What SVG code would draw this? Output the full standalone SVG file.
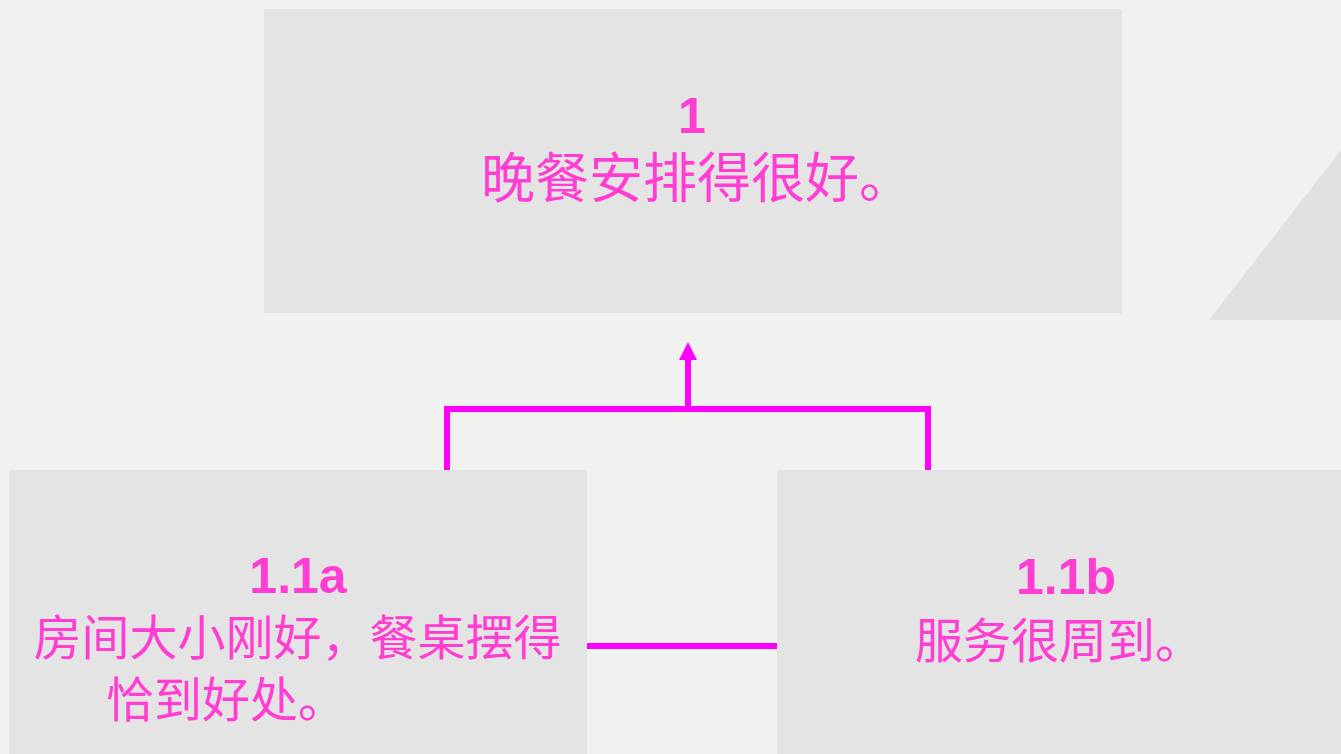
<svg xmlns="http://www.w3.org/2000/svg" width="1341" height="754" viewBox="0 0 1341 754">
<defs>
<style>
.box{fill:#e4e4e4;}
.num{font-family:"Liberation Sans",Arial,sans-serif;font-weight:bold;font-size:50px;fill:#ff3dd2;}
.zh{font-family:"Liberation Sans","Noto Sans CJK SC",sans-serif;font-size:48px;fill:#ff3dd2;}
.conn{fill:none;stroke:#ff00ff;stroke-width:6;}
</style>
</defs>
<rect x="0" y="0" width="1341" height="754" fill="#f1f1f0"/>
<polygon points="1209,320 1341,320 1341,150" fill="#e0e0de"/>
<g id="connectors">
<polyline class="conn" points="447,470 447,409 928,409 928,470"/>
<line class="conn" x1="688" y1="409" x2="688" y2="358"/>
<polygon points="688,342 697,360 679,360" fill="#ff00ff"/>
<line class="conn" x1="587" y1="646" x2="777" y2="646"/>
</g>
<g id="node1">
<rect class="box" x="264" y="9" width="858" height="304"/>
<text class="num" x="692" y="133" text-anchor="middle">1</text>
<text class="zh" x="697" y="198" text-anchor="middle" style="font-size:54px">晚餐安排得很好。</text>
</g>
<g id="node1_1a">
<rect class="box" x="9" y="470" width="578" height="284"/>
<text class="num" x="298" y="593" text-anchor="middle">1.1a</text>
<text class="zh" x="297.5" y="655" text-anchor="middle">房间大小刚好，餐桌摆得</text>
<text class="zh" x="106" y="717">恰到好处。</text>
</g>
<g id="node1_1b">
<rect class="box" x="777" y="470" width="564" height="284"/>
<text class="num" x="1066" y="594" text-anchor="middle">1.1b</text>
<text class="zh" x="1059" y="658" text-anchor="middle">服务很周到。</text>
</g>
</svg>
